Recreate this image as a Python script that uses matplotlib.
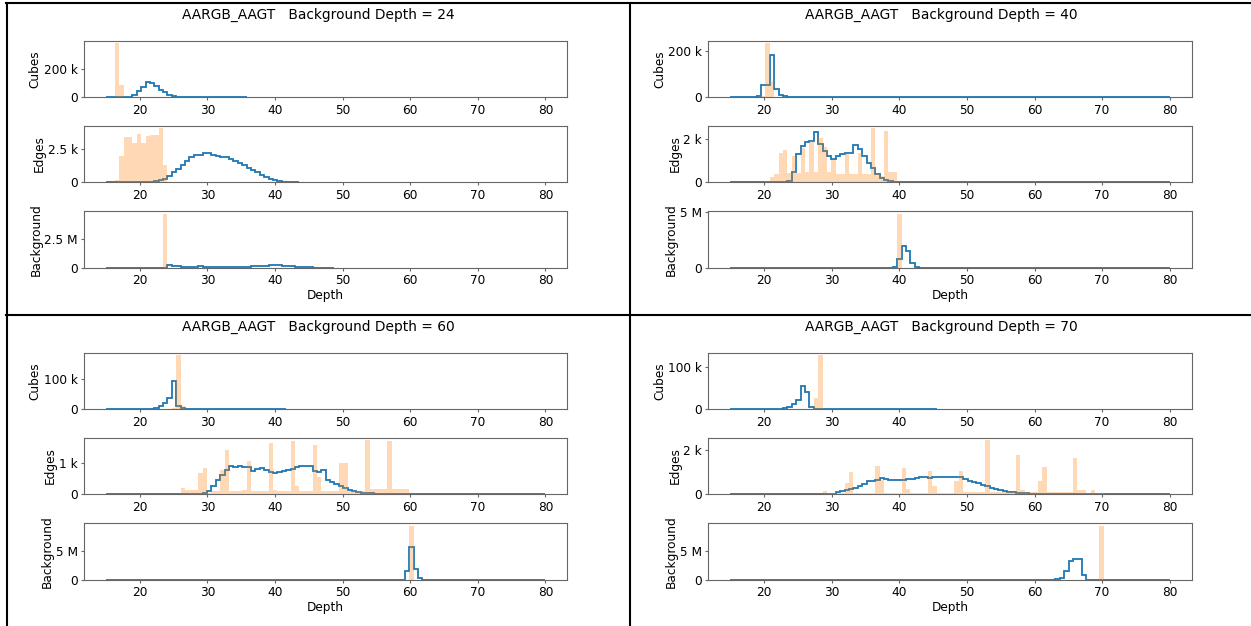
import numpy as np
import matplotlib
matplotlib.use("Agg")
import matplotlib.pyplot as plt
from matplotlib.lines import Line2D
from matplotlib.ticker import EngFormatter, MaxNLocator

# ----------- HISTOGRAM BINNING --------------
depth_min = 15
depth_max = 80
bin_width = 0.65   # 100 bins between 15 and 80

sample_name = "AARGB_AAGT"
row_names = ["Cubes", "Edges", "Background"]

# each series: index of its first bin, then counts per bin
# "line" = step histogram (blue), "ref" = filled histogram (orange)

# ----------- BACKGROUND DEPTH = 24 --------------
d24_cubes_from, d24_cubes = 4, [1e3, 3e3, 15e3, 45e3, 70e3, 105e3, 100e3, 80e3, 55e3, 35e3, 18e3, 8e3, 4e3,
                                3e3, 2.5e3, 2e3, 2e3, 1.5e3, 1.5e3, 1e3, 1e3, 1e3, 1e3, 0.8e3, 0.8e3, 0.5e3,
                                0.5e3, 0.5e3]
d24_cubes_ref_from, d24_cubes_ref = 2, [378e3, 87e3]
d24_edges_from, d24_edges = 9, [20, 50, 100, 150, 250, 450, 750, 1000, 1300, 1550, 1850, 2050, 2000, 2200,
                                2150, 2050, 1950, 1900, 1850, 1750, 1600, 1450, 1300, 1100, 950, 750, 550,
                                400, 250, 150, 80, 50, 30, 20, 10]
d24_edges_ref_from, d24_edges_ref = 2, [200, 1950, 3350, 3400, 2900, 3550, 2950, 3450, 3500, 3500, 4000, 1300]
d24_bg_from, d24_bg = 13, [0.02e6, 0.22e6, 0.2e6, 0.15e6, 0.12e6, 0.12e6, 0.12e6, 0.13e6, 0.15e6, 0.12e6,
                           0.1e6, 0.09e6, 0.09e6, 0.09e6, 0.09e6, 0.09e6, 0.09e6, 0.09e6, 0.1e6, 0.12e6,
                           0.14e6, 0.16e6, 0.18e6, 0.2e6, 0.22e6, 0.22e6, 0.22e6, 0.2e6, 0.18e6, 0.15e6,
                           0.13e6, 0.1e6, 0.08e6, 0.06e6, 0.04e6, 0.03e6, 0.02e6, 0.01e6, 0.005e6]
d24_bg_ref_from, d24_bg_ref = 13, [4.72e6]
d24_line_ends = [32, 44, 52]

# ----------- BACKGROUND DEPTH = 40 --------------
d40_cubes_from, d40_cubes = 5, [2e3, 8e3, 52e3, 52e3, 182e3, 34e3, 10e3, 5e3, 3e3, 2e3, 2e3, 1.5e3, 1.5e3,
                                1e3, 1e3, 1e3, 0.8e3, 0.8e3, 0.5e3, 0.5e3, 0.5e3, 0.3e3]
d40_cubes_ref_from, d40_cubes_ref = 7, [5e3, 231e3, 69e3]
d40_edges_from, d40_edges = 12, [20, 50, 500, 1300, 1700, 1850, 1900, 2350, 1800, 1450, 1200, 1100, 1200,
                                 1300, 1350, 1350, 1750, 1550, 1200, 900, 650, 400, 220, 120, 60, 30, 20, 10]
d40_edges_ref_from, d40_edges_ref = 8, [50, 250, 400, 1350, 1500, 450, 1200, 450, 1600, 500, 1900, 500, 2050,
                                        1650, 500, 1050, 400, 400, 1350, 400, 400, 1350, 400, 400, 2500, 400,
                                        300, 2400, 500, 500]
d40_bg_from, d40_bg = 37, [0.08e6, 0.84e6, 1.95e6, 1.56e6, 0.45e6, 0.09e6]
d40_bg_ref_from, d40_bg_ref = 38, [4.85e6]
d40_line_ends = [100, 100, 100]

# ----------- BACKGROUND DEPTH = 60 --------------
d60_cubes_from, d60_cubes = 7, [1e3, 2e3, 2.2e3, 2.5e3, 5.5e3, 10e3, 20e3, 38e3, 94e3, 12e3, 5e3, 2e3, 1.5e3,
                                1.2e3, 1e3, 1e3, 1e3, 0.8e3, 0.8e3, 0.8e3, 0.8e3, 0.6e3, 0.6e3, 0.6e3, 0.6e3,
                                0.5e3, 0.5e3, 0.5e3, 0.5e3, 0.4e3, 0.4e3, 0.4e3, 0.3e3, 0.3e3]
d60_cubes_ref_from, d60_cubes_ref = 15, [5e3, 179e3, 12e3, 2e3]
d60_edges_from, d60_edges = 22, [30, 120, 280, 450, 620, 780, 900, 850, 880, 870, 870, 750, 800, 820, 770,
                                 720, 680, 720, 750, 760, 800, 870, 900, 900, 880, 750, 720, 760, 450, 400,
                                 330, 270, 200, 150, 100, 70, 50, 40, 30, 20, 20, 10, 10, 10, 10, 10]
d60_edges_ref_from, d60_edges_ref = 17, [190, 150, 140, 130, 680, 820, 50, 100, 120, 780, 1400, 120, 120, 120,
                                         150, 1050, 120, 120, 120, 120, 1620, 150, 120, 120, 120, 1670, 250,
                                         120, 120, 120, 1560, 550, 100, 100, 100, 100, 990, 990, 100, 100, 100,
                                         120, 1700, 180, 180, 180, 180, 1680, 180, 180, 180, 180]
d60_bg_from, d60_bg = 68, [1.6e6, 5.8e6, 1.9e6, 0.4e6, 0.05e6]
d60_bg_ref_from, d60_bg_ref = 69, [9.45e6]
d60_line_ends = [41, 100, 100]

# ----------- BACKGROUND DEPTH = 70 --------------
d70_cubes_from, d70_cubes = 9, [0.5e3, 1.5e3, 1.5e3, 4e3, 6e3, 12e3, 23e3, 55e3, 41e3, 6e3, 2e3, 1.5e3, 1.2e3,
                                1e3, 0.8e3, 0.6e3, 0.5e3, 0.5e3, 0.4e3, 0.4e3, 0.4e3, 0.4e3, 0.3e3, 0.3e3,
                                0.3e3, 0.3e3, 0.3e3, 0.3e3, 0.3e3, 0.3e3, 0.2e3, 0.2e3, 0.2e3, 0.2e3, 0.2e3,
                                0.2e3, 0.2e3, 0.2e3]
d70_cubes_ref_from, d70_cubes_ref = 19, [26e3, 127e3]
d70_edges_from, d70_edges = 22, [20, 40, 100, 150, 200, 250, 300, 400, 470, 600, 600, 670, 740, 700, 640,
                                 640, 640, 670, 700, 700, 740, 790, 770, 740, 770, 770, 770, 810, 810, 810,
                                 780, 680, 620, 580, 500, 420, 360, 300, 250, 190, 160, 130, 100, 80, 60, 50,
                                 40, 30, 20, 20, 10, 10, 10, 10]
d70_edges_ref_from, d70_edges_ref = 21, [150, 60, 60, 80, 80, 500, 1000, 80, 80, 80, 80, 80, 1300, 670, 80,
                                         80, 80, 80, 1200, 250, 80, 80, 80, 80, 1070, 400, 80, 80, 80, 80, 600,
                                         1070, 120, 120, 120, 120, 120, 2450, 120, 120, 120, 120, 120, 120, 1780,
                                         200, 120, 120, 120, 600, 1260, 120, 120, 120, 120, 120, 120, 1660, 180,
                                         180, 60, 200, 60, 60]
d70_bg_from, d70_bg = 74, [0.1e6, 0.4e6, 1.5e6, 3.3e6, 3.7e6, 3.7e6, 0.9e6]
d70_bg_ref_from, d70_bg_ref = 84, [9.45e6]
d70_line_ends = [47, 100, 100]

panels = [
    (24, d24_line_ends,
     [(d24_cubes_from, d24_cubes, d24_cubes_ref_from, d24_cubes_ref),
      (d24_edges_from, d24_edges, d24_edges_ref_from, d24_edges_ref),
      (d24_bg_from, d24_bg, d24_bg_ref_from, d24_bg_ref)]),
    (40, d40_line_ends,
     [(d40_cubes_from, d40_cubes, d40_cubes_ref_from, d40_cubes_ref),
      (d40_edges_from, d40_edges, d40_edges_ref_from, d40_edges_ref),
      (d40_bg_from, d40_bg, d40_bg_ref_from, d40_bg_ref)]),
    (60, d60_line_ends,
     [(d60_cubes_from, d60_cubes, d60_cubes_ref_from, d60_cubes_ref),
      (d60_edges_from, d60_edges, d60_edges_ref_from, d60_edges_ref),
      (d60_bg_from, d60_bg, d60_bg_ref_from, d60_bg_ref)]),
    (70, d70_line_ends,
     [(d70_cubes_from, d70_cubes, d70_cubes_ref_from, d70_cubes_ref),
      (d70_edges_from, d70_edges, d70_edges_ref_from, d70_edges_ref),
      (d70_bg_from, d70_bg, d70_bg_ref_from, d70_bg_ref)]),
]

# ------------- LAYOUT (pixels of a 1251 x 626 canvas) --------------
W, H = 1251, 626
fig = plt.figure(figsize=(W / 100, H / 100), dpi=100)
plt.rcParams["font.size"] = 8.7

panel_x = [84, 708.3, 84, 708.3]           # axes left edge per panel
panel_dy = [0, 0, 312, 312]                # vertical shift per panel
title_x = [318, 941, 318, 941]
row_tops = [40.7, 125.7, 211.3]
ax_w, ax_h = 483.4, 56.7

span = depth_max - depth_min
fmt = EngFormatter()

for p, (bg_depth, line_ends, rows) in enumerate(panels):
    fig.text(title_x[p] / W, 1 - (15 + panel_dy[p]) / H,
             f"{sample_name}   Background Depth = {bg_depth}",
             ha="center", va="center", fontsize=9.9)
    for r, (l_from, l_vals, b_from, b_vals) in enumerate(rows):
        top = row_tops[r] + panel_dy[p]
        ax = fig.add_axes([panel_x[p] / W, 1 - (top + ax_h) / H, ax_w / W, ax_h / H])

        n_end = line_ends[r]
        counts = np.zeros(n_end)
        counts[l_from:l_from + len(l_vals)] = l_vals
        edges = depth_min + bin_width * np.arange(n_end + 1)
        ax.stairs(counts, edges, color="C0", lw=1.3)

        ref = np.asarray(b_vals, dtype=float)
        ref_edges = depth_min + bin_width * np.arange(b_from, b_from + len(ref) + 1)
        ax.stairs(ref, ref_edges, fill=True, color="C1", alpha=0.3, lw=0)

        ax.set_xlim(depth_min - 0.05 * span, depth_max + 0.05 * span)
        ax.set_ylim(0, 1.05 * max(counts.max(), ref.max()))
        ax.yaxis.set_major_locator(MaxNLocator(nbins=2, steps=[1, 2, 2.5, 5, 10]))
        ax.yaxis.set_major_formatter(fmt)
        ax.set_ylabel(row_names[r], labelpad=1.5)
        for s in ax.spines.values():
            s.set_color("0.4")
        ax.tick_params(color="0.4", length=2.2, pad=2.2)
        if r == 2:
            ax.set_xlabel("Depth", labelpad=1.5)

# panel frame lines
frame = [((6.5, 6.5), (3, 626)), ((6, 1251), (3, 3)),
         ((630, 630), (3, 626)), ((6, 1251), (315, 315))]
for xs, ys in frame:
    fig.add_artist(Line2D([x / W for x in xs], [1 - y / H for y in ys],
                          transform=fig.transFigure, color="black", lw=1.5))

fig.savefig("out.png", dpi=100)
